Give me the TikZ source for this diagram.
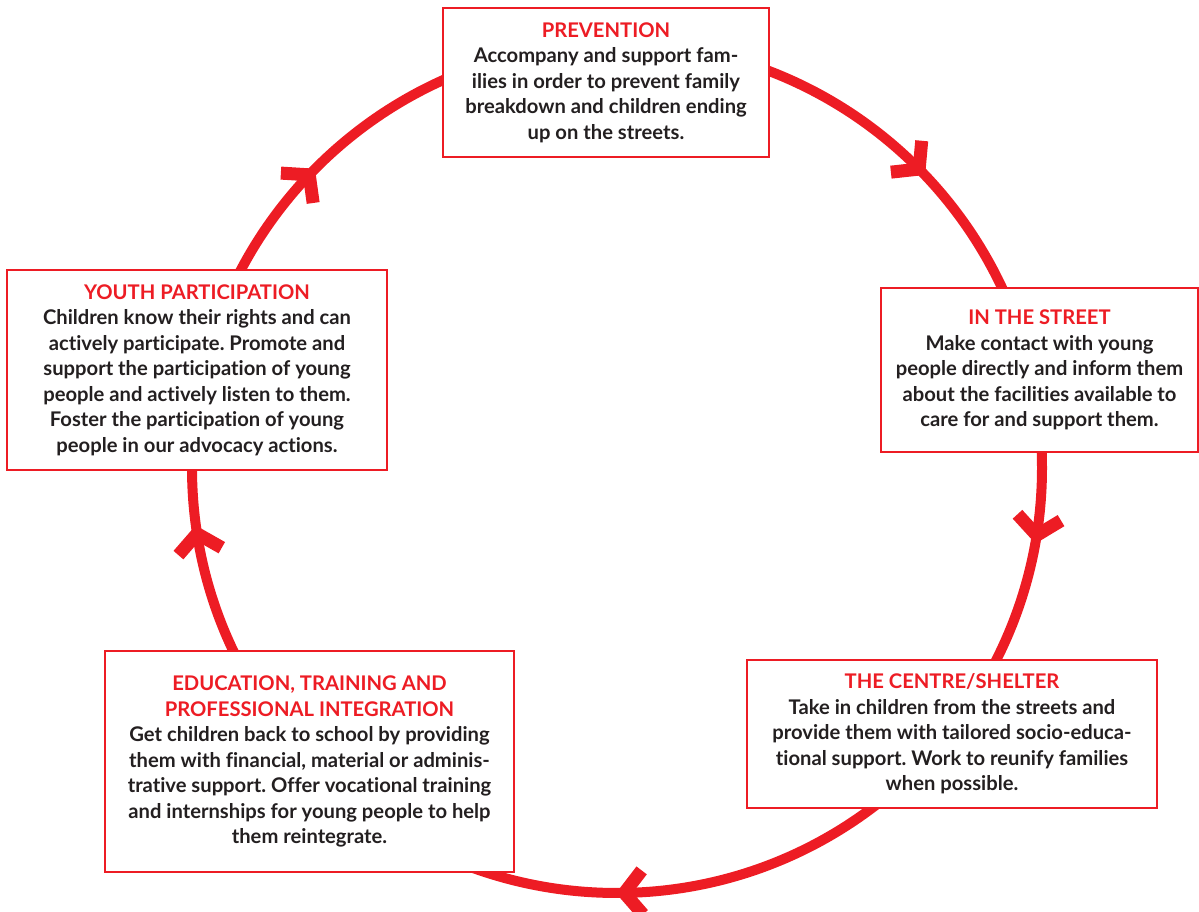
\documentclass[tikz,border=0pt]{standalone}
\usepackage{fontspec}
\setmainfont{Lato}[Ligatures=NoCommon]
\frenchspacing
\usetikzlibrary{arrows.meta,positioning}
\definecolor{ringred}{RGB}{237,28,36}
\definecolor{inkgray}{RGB}{35,31,32}
\newcommand{\cycletitle}[1]{\textcolor{ringred}{#1}}

\begin{document}
\begin{tikzpicture}[
    x=1pt, y=1pt,
    box/.style={rectangle, draw=ringred, line width=2.5pt, fill=white, align=center, text=inkgray,
        font=\bfseries\fontsize{20.2}{25.5}\selectfont, inner sep=0pt},
    ring/.style={draw=ringred, line width=10pt},
    chevron/.pic={\draw[ringred, line width=13pt, line join=miter] (-12pt,22pt) -- (6pt,0pt) -- (-12pt,-22pt);}
]
    \useasboundingbox (0,0) rectangle (1199,912);
    \coordinate (hub) at (617,444);

    % the cycle, clockwise
    \draw[ring] (hub) circle[radius=425];
    \foreach \a in {45.5,-8.3,-88.2,189.7,137.2}
        \path (hub) ++(\a:425) pic[rotate=\a-90] {chevron};

    \node[box, minimum width=326pt, minimum height=149pt] (prev) at (606,829.5)
        {\cycletitle{PREVENTION}\\Accompany and support fam-\\ilies in order to prevent family\\breakdown and children ending\\up on the streets.};
    \node[box, minimum width=317pt, minimum height=164pt] (street) at (1039.5,542)
        {\cycletitle{IN THE STREET}\\Make contact with young\\people directly and inform them\\about the facilities available to\\care for and support them.};
    \node[box, minimum width=410pt, minimum height=148pt] (centre) at (952,178)
        {\cycletitle{THE CENTRE/SHELTER}\\Take in children from the streets and\\provide them with tailored socio-educa-\\tional support. Work to reunify families\\when possible.};
    \node[box, minimum width=409pt, minimum height=221pt] (edu) at (309.5,150.5)
        {\cycletitle{EDUCATION, TRAINING AND}\\\cycletitle{PROFESSIONAL INTEGRATION}\\Get children back to school by providing\\them with financial, material or adminis-\\trative support. Offer vocational training\\and internships for young people to help\\them reintegrate.};
    \node[box, minimum width=380pt, minimum height=200pt] (youth) at (197,542)
        {\cycletitle{YOUTH PARTICIPATION}\\Children know their rights and can\\actively participate. Promote and\\support the participation of young\\people and actively listen to them.\\Foster the participation of young\\people in our advocacy actions.};
\end{tikzpicture}
\end{document}
